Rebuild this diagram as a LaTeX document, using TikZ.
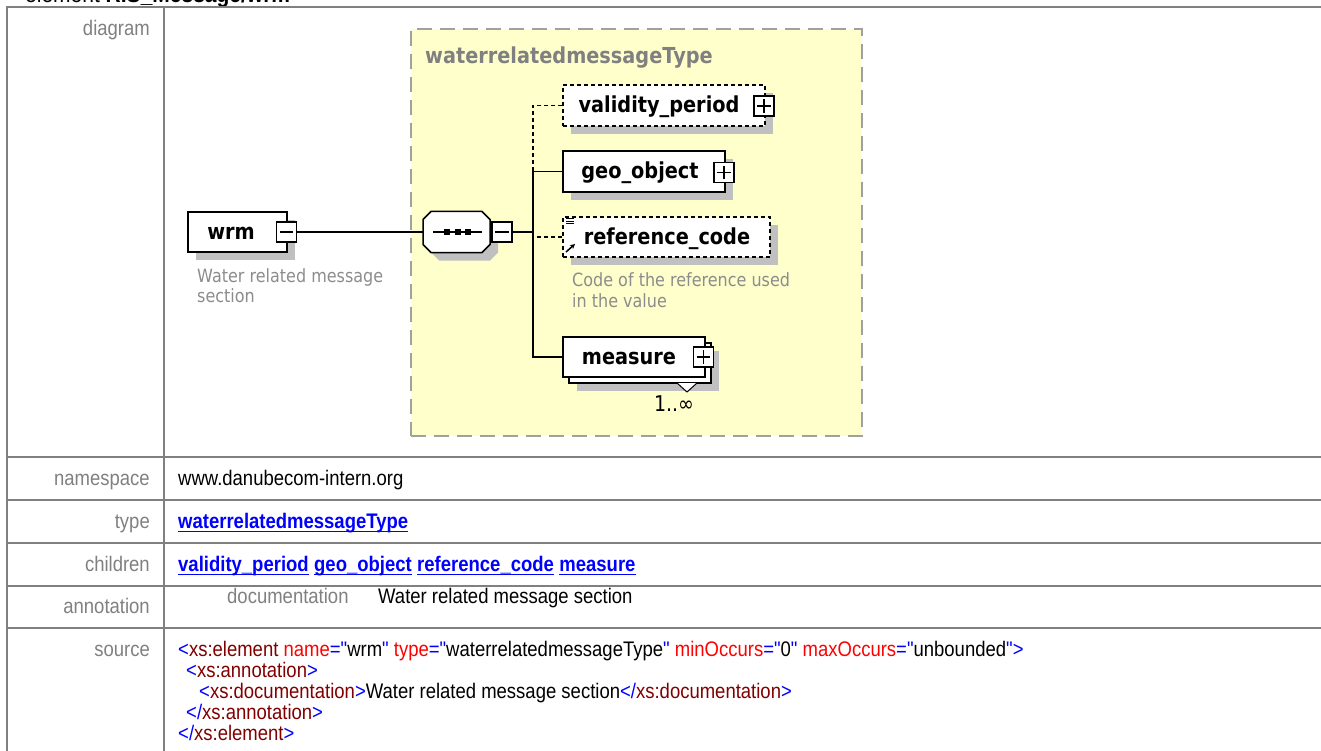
\documentclass[tikz,border=0pt]{standalone}
\usepackage{fontspec}
\usepackage{graphicx}
\setmainfont{Liberation Sans}[Ligatures=TeXOff]
\newfontfamily\djv{DejaVu Sans}
\usetikzlibrary{arrows.meta}
\definecolor{tblline}{HTML}{808080}
\definecolor{lblgray}{HTML}{808080}
\definecolor{linkblue}{HTML}{0000FF}
\definecolor{tagred}{HTML}{800000}
\definecolor{attrred}{HTML}{FF0000}
\definecolor{shd}{HTML}{C0C0C0}
\definecolor{yel}{HTML}{FFFFCC}
\definecolor{dashgray}{HTML}{A0A0A0}
\definecolor{anngray}{HTML}{8C8C8C}
\newcommand{\vstr}[1]{\scalebox{1}[1.14]{#1}}
\newcommand{\tbfont}{\fontsize{18.5}{21}\selectfont}
\newcommand{\elfont}{\djv\bfseries\fontsize{19.3}{22}\selectfont}
\newcommand{\anfont}{\djv\fontsize{16}{20}\selectfont}
\newcommand{\xb}[1]{{\color{linkblue}#1}}
\newcommand{\xr}[1]{{\color{tagred}#1}}
\newcommand{\xa}[1]{{\color{attrred}#1}}
\newcommand{\qq}{\symbol{"22}}
\tikzset{
 tbl/.style={draw=tblline, line width=2pt},
 lbl/.style={anchor=base east, inner sep=0pt, text=lblgray, font=\tbfont},
 dat/.style={anchor=base west, inner sep=0pt, font=\tbfont},
 lnk/.style={anchor=base west, inner sep=0pt, font=\tbfont\bfseries, text=linkblue},
 uline/.style={draw=linkblue, line width=1.4pt},
 elbox/.style={draw, line width=1.5pt, fill=white, inner sep=0pt},
 optbox/.style={elbox, dash pattern=on 4pt off 3pt},
 btn/.style={draw, line width=1.2pt, fill=white, minimum width=20pt, minimum height=20pt, inner sep=0pt},
 eltxt/.style={anchor=base, inner sep=0pt, font=\elfont},
 anntxt/.style={anchor=base west, inner sep=0pt, font=\anfont, text=anngray},
 conn/.style={line width=1.5pt},
 optconn/.style={conn, dash pattern=on 4pt off 3pt},
 shadow/.style={fill=shd},
 sign/.style={line width=1.2pt}
}
\begin{document}
\begin{tikzpicture}[x=1pt,y=-1pt]
\useasboundingbox (0,0) rectangle (1321,751);
% title (cut off at top, as in the reference)
\node[anchor=base west, inner sep=0pt, font=\fontsize{21}{24}\selectfont] (title) at (25,3) {\vstr{element \textbf{RIS\_Message/wrm}}};
% table grid
\draw[tbl] (7,7) -- (1330,7);
\draw[tbl] (7,456.5) -- (1330,456.5);
\draw[tbl] (7,500) -- (1330,500);
\draw[tbl] (7,543) -- (1330,543);
\draw[tbl] (7,586) -- (1330,586);
\draw[tbl] (7,628) -- (1330,628);
\draw[tbl] (7,6) -- (7,760);
\draw[tbl] (164,6) -- (164,760);
% labels
\node[lbl] (ldiag) at (150,36) {\vstr{diagram}};
\node[lbl] (lns) at (150,485) {\vstr{namespace}};
\node[lbl] (ltype) at (150,528) {\vstr{type}};
\node[lbl] (lchild) at (150,571) {\vstr{children}};
\node[lbl] (lann) at (150,613) {\vstr{annotation}};
\node[lbl] (lsrc) at (150,656) {\vstr{source}};
% values
\node[dat] (ns) at (178,485) {\vstr{www.danubecom-intern.org}};
\node[lnk] (ty) at (178,528) {\vstr{waterrelatedmessageType}};
\draw[uline] ([yshift=-3.5pt]ty.base west) -- ([yshift=-3.5pt]ty.base east);
\node[lnk] (c1) at (178,571) {\vstr{validity\_period}};
\node[lnk, anchor=base west] (c2) at ([xshift=5pt]c1.base east) {\vstr{geo\_object}};
\node[lnk, anchor=base west] (c3) at ([xshift=5pt]c2.base east) {\vstr{reference\_code}};
\node[lnk, anchor=base west] (c4) at ([xshift=5pt]c3.base east) {\vstr{measure}};
\foreach \c in {c1,c2,c3,c4}{
  \draw[uline] ([yshift=-3.5pt]\c.base west) -- ([yshift=-3.5pt]\c.base east);
}
\node[dat, text=lblgray] (docl) at (227,603) {\vstr{documentation}};
\node[dat] (doct) at (378,603) {\vstr{Water related message section}};
\node[dat] (s1) at (178,656) {\vstr{\xb{<}\xr{xs:element} \xa{name}\xb{=\qq}wrm\xb{\qq} \xa{type}\xb{=\qq}waterrelatedmessageType\xb{\qq} \xa{minOccurs}\xb{=\qq}0\xb{\qq} \xa{maxOccurs}\xb{=\qq}unbounded\xb{\qq>}}};
\node[dat] (s2) at (186,677) {\vstr{\xb{<}\xr{xs:annotation}\xb{>}}};
\node[dat] (s3) at (199,698) {\vstr{\xb{<}\xr{xs:documentation}\xb{>}Water related message section\xb{</}\xr{xs:documentation}\xb{>}}};
\node[dat] (s4) at (186,719) {\vstr{\xb{</}\xr{xs:annotation}\xb{>}}};
\node[dat] (s5) at (178,740) {\vstr{\xb{</}\xr{xs:element}\xb{>}}};
% ---------- diagram ----------
\node[draw=dashgray, line width=2pt, dash pattern=on 15pt off 8pt, fill=yel, minimum width=451pt, minimum height=407pt, inner sep=0pt] (cplx) at (636.5,232.5) {};
\node[anchor=base west, inner sep=0pt, font=\elfont, text=lblgray] (cplxname) at (425,64) {\vstr{waterrelatedmessageType}};
% shadows
\fill[shadow] (196,220) rectangle (295,260);
\fill[shadow, shift={(8,8)}] (423,219.5) -- (431,211.5) -- (482,211.5) -- (490,219.5) -- (490,244.5) -- (482,252.5) -- (431,252.5) -- (423,244.5) -- cycle;
\fill[shadow] (571,93) rectangle (773,134);
\fill[shadow] (571,159) rectangle (733,200);
\fill[shadow] (571,225) rectangle (778,265);
\fill[shadow] (577,351) rectangle (719,391);
% wrm
\node[elbox, minimum width=99pt, minimum height=40pt] (wrm) at (237.5,232) {};
\node[eltxt] (wrmtxt) at (231,239.5) {\vstr{wrm}};
\node[btn] (wrmbtn) at (286.5,232) {};
\draw[sign] ([xshift=4pt]wrmbtn.west) -- ([xshift=-4pt]wrmbtn.east);
\node[anntxt] (wann1) at (197,282) {\vstr{Water related message}};
\node[anntxt] (wann2) at (197,302) {\vstr{section}};
% sequence
\node[minimum width=67pt, minimum height=41pt, inner sep=0pt] (seq) at (456.5,232) {};
\draw[elbox] (423,219.5) -- (431,211.5) -- (482,211.5) -- (490,219.5) -- (490,244.5) -- (482,252.5) -- (431,252.5) -- (423,244.5) -- cycle;
\draw[line width=1.2pt] (433,232) -- (482,232);
\foreach \q in {447,458,468}{\fill (\q-2.8,229.2) rectangle (\q+2.8,234.8);}
\node[btn] (seqbtn) at (502,232) {};
\draw[sign] ([xshift=4pt]seqbtn.west) -- ([xshift=-4pt]seqbtn.east);
\draw[conn] (wrmbtn.east) -- (seq.west);
\coordinate (trunk) at (533,232);
\draw[conn] (seqbtn.east) -- (trunk);
% children
\node[optbox, minimum width=202pt, minimum height=41pt] (vp) at (664,105.5) {};
\node[eltxt] (vptxt) at (659,113) {\vstr{validity\_period}};
\node[btn] (vpbtn) at (764,106) {};
\draw[sign] ([xshift=4pt]vpbtn.west) -- ([xshift=-4pt]vpbtn.east) ([yshift=-4pt]vpbtn.north) -- ([yshift=4pt]vpbtn.south);
\node[elbox, minimum width=162pt, minimum height=41pt] (geo) at (644,171.5) {};
\node[eltxt] (geotxt) at (640,179) {\vstr{geo\_object}};
\node[btn] (geobtn) at (724,172.5) {};
\draw[sign] ([xshift=4pt]geobtn.west) -- ([xshift=-4pt]geobtn.east) ([yshift=-4pt]geobtn.north) -- ([yshift=4pt]geobtn.south);
\node[optbox, minimum width=207pt, minimum height=40pt] (ref) at (666.5,237) {};
\node[eltxt] (reftxt) at (667,244.5) {\vstr{reference\_code}};
\draw[line width=1pt] (566,219) -- (574,219) (566,221.5) -- (574,221.5) (566,224) -- (574,224);
\draw[line width=1.5pt, -{Stealth[length=5pt,width=5pt]}] (566,252) -- (575,244);
\node[anntxt] (rann1) at (572,286) {\vstr{Code of the reference used}};
\node[anntxt] (rann2) at (572,307) {\vstr{in the value}};
\node[elbox, minimum width=142pt, minimum height=40pt] (measback) at (640,363) {};
\node[elbox, minimum width=142pt, minimum height=40pt] (meas) at (634,357) {};
\node[eltxt] (meastxt) at (629,364.5) {\vstr{measure}};
\node[btn] (measbtn) at (703.5,357) {};
\draw[sign] ([xshift=4pt]measbtn.west) -- ([xshift=-4pt]measbtn.east) ([yshift=-4pt]measbtn.north) -- ([yshift=4pt]measbtn.south);
\draw[line width=1pt, fill=white] (677,383) -- (687,392) -- (697,383);
\node[anchor=base, inner sep=0pt, font=\djv\fontsize{19}{22}\selectfont] (mult) at (674,411) {\vstr{1..∞}};
% connectors
\draw[optconn] (vp.west) -| (trunk |- geo.west);
\draw[conn] (geo.west) -| (trunk |- meas.west) -- (meas.west);
\draw[optconn] (ref.west) -- (trunk |- ref.west);
\end{tikzpicture}
\end{document}
